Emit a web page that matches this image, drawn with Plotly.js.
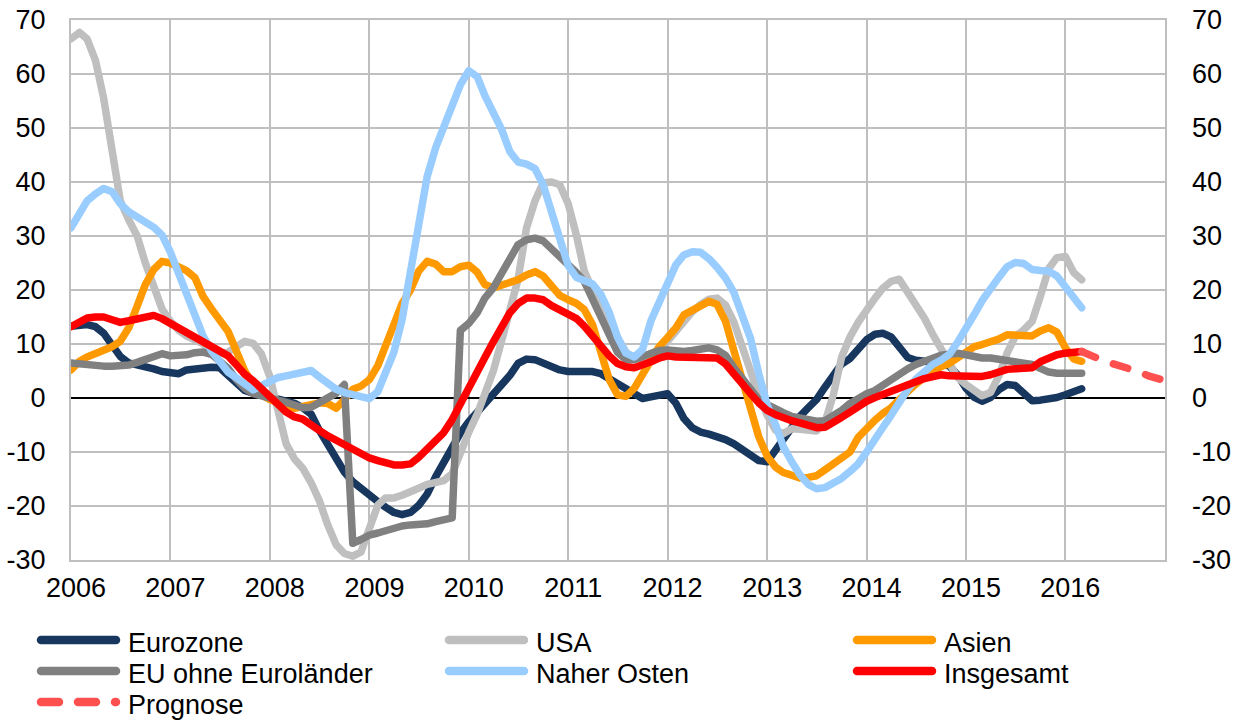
<!DOCTYPE html>
<html><head><meta charset="utf-8">
<script src="https://cdn.plot.ly/plotly-3.0.1.min.js"></script>
<style>
html,body{margin:0;padding:0;background:#fff;}
#chart{width:1242px;height:720px;}
.scatterlayer .js-line{stroke-linecap:round;stroke-linejoin:round;}
.shapelayer path{stroke-linecap:round;}
</style></head><body><div id="chart"></div>
<script>
// Monthly values, Jan 2006 .. Mar 2016
const startYear = 2006;
const eurozone = [13.3,13.6,13.6,13.2,12,9.8,7.7,6.5,6.2,5.9,5.4,4.9,
 4.6,4.5,5.2,5.4,5.6,5.7,5.6,4.3,2.8,1.4,0.9,0.4,
 0.2,-0.2,-0.6,-1,-1.8,-3,-6,-8.6,-11.3,-13.7,-15.5,-16.8,
 -18,-19.2,-20.2,-21.2,-21.6,-21.2,-19.9,-17.8,-14.6,-11.7,-8.9,-6.5,
 -4.4,-2.7,-0.9,0.7,2.3,4.2,6.4,7.2,7.1,6.5,5.6,5.2,
 4.9,4.9,4.9,4.9,4.5,3.6,2.6,1.5,0.6,-0.1,0.2,0.6,
 0.8,-1,-3.8,-5.5,-6.3,-6.7,-7.1,-7.7,-8.5,-9.4,-10.6,-11.6,
 -11.8,-9.7,-7.5,-5.3,-3.4,-1.8,-0.3,2,4.5,6.3,7.3,9,
 10.8,11.8,12,11.3,9.5,7.5,7,6.8,6.6,6.5,5.9,4.3,
 1.8,0.1,-0.6,0.1,1.5,2.5,2.3,0.9,-0.5,-0.4,-0.2,0.1,
 0.6,1.2,1.7];
const usa = [66.5,67.7,66.5,62.5,55.5,45.5,36.5,33,30,25,20.5,16.5,
 14.2,12.5,11.5,10.8,10,9,8.2,8.5,9.5,10.5,10.1,8.2,
 4,-2.5,-8.5,-11.3,-13,-15.7,-19,-23.5,-27.2,-28.8,-29.3,-28.5,
 -24.5,-19.8,-18.5,-18.5,-18,-17.5,-16.7,-16,-15.5,-15.3,-14,-10,
 -6.3,-3,0.7,5,10.5,16,22,31.5,36.5,39.8,40,39.5,
 36,30,23.5,20,17,13.5,11.2,8.5,7.3,7.3,8,9,
 10.5,12.5,14.5,16,17.3,18.3,18.5,17.2,14,9.5,5.2,0.5,
 -3.2,-6,-6.6,-5.7,-5.8,-6,-6.1,-4.5,0.6,7.5,11.3,14,
 16.4,18.5,20.3,21.6,22,19.6,17.3,14.8,11.8,9.2,6.3,3.8,
 2.5,1.2,0.4,1,4,8.3,11.4,12.6,14.2,18.8,24,26,
 26.2,23.2,21.9];
const asien = [5.2,6.8,7.6,8.2,8.7,9.5,10.5,13,17,21,23.8,25.3,
 25,24.2,23.6,22.3,18.8,16.5,14.5,12.3,8.6,5,2.6,0.6,
 -0.3,-1,-1.5,-1.9,-1.5,-1,-0.9,-1,-1.9,-0.3,1.6,2.2,
 3.4,6,9.5,13.5,17.5,20,23.5,25.3,24.8,23.4,23.4,24.3,
 24.6,23.3,21,20.4,20.9,21.4,21.9,22.8,23.4,22.6,20.7,19,
 18.2,17.5,16.4,13.5,8.5,3.4,0.6,0.3,1.8,4.5,7,9.5,
 11.2,13,15.4,16.3,17,17.9,17.3,14.2,8.7,3.2,-2.3,-7.2,
 -10.8,-12.8,-13.8,-14.5,-14.8,-14.7,-14.4,-13.3,-12.3,-11.3,-10,-7.3,
 -5.5,-4.1,-2.9,-1.8,-0.3,1.4,2.6,3.8,4.9,5.8,6.4,7.5,
 8.5,9.5,9.9,10.3,10.9,11.7,11.6,11.4,11.5,12.4,13,12.2,
 9.3,7.2,6.8];
const euOhne = [6.5,6.3,6,5.9,5.9,5.9,5.9,6.1,6.6,7.2,7.9,8.2,
 7.8,7.8,8,8.4,8.5,8.1,7,5.5,3.4,1.8,0.8,0.4,
 0.2,-0.1,-0.8,-1.3,-1.8,-1.7,-0.9,-0.2,0.9,2.5,-26.9,-26.2,
 -25.4,-25,-24.5,-24,-23.7,-23.5,-23.5,-23.3,-22.9,-22.5,-22.2,12.5,
 13.8,15.8,18.5,20.4,23,25.5,28.4,29.3,29.6,29.1,27.7,26.2,
 24.6,23.2,21.6,18.2,15.5,11.5,8.5,7.1,7.1,7.7,8.4,8.8,
 8.9,8.7,8.6,8.8,9.1,9.3,8.9,7.9,5.6,3.5,1.4,-0.3,
 -1.2,-2.1,-2.7,-3.4,-3.8,-4.2,-4.3,-4.2,-3.4,-2.3,-1,0,
 0.8,1.4,2.4,3.3,4.4,5.4,6.2,6.9,7.5,7.9,8.1,8.3,
 8,7.6,7.4,7.4,7.2,7,6.8,6.5,6.2,5.5,4.8,4.6,
 4.6,4.6,4.6];
const naherOsten = [31.5,34.5,36.5,37.8,38.8,38.2,36,34.5,33.5,32.5,31.6,30.2,
 27,23,19.5,16,11.5,8.7,6.5,4.8,3.7,2.6,1.5,2.3,
 3.2,3.8,4.1,4.4,4.8,5.1,3.9,2.8,1.6,1,0.6,0.2,
 -0.1,1.2,4.5,8.5,14.5,23,33,41,46.3,50,53.7,58,
 60.6,59.5,56,53,49.8,45.6,43.7,43.3,42.5,39.5,34.5,28.5,
 24.5,22.3,21.7,21.1,19.2,15.8,11.3,8.3,7.6,9,14.3,17.7,
 21.8,24.7,26.5,27.1,27,25.8,24.2,22.2,19.5,15.7,11,4.5,
 -1.3,-5,-9,-11.8,-14.2,-16,-16.8,-16.6,-15.8,-14.9,-13.6,-12.2,
 -10,-7.9,-5.5,-3.2,-0.7,1.6,3.5,5,6.2,7,8.1,10.3,
 12.7,15.5,18,20.4,22.3,24.3,25.1,24.9,23.8,23.6,23.5,22.6,
 20.6,18.2,16.7];
const insgesamt = [13.2,14.1,14.8,15,15,14.5,14,14.3,14.7,15.1,15.3,14.7,
 13.8,13.2,12.3,11.5,10.5,9.6,8.9,7.8,6.1,4.4,3.2,1.9,
 0.5,-1.2,-2.6,-3.5,-3.9,-4.8,-6,-7,-7.9,-8.7,-9.3,-10.4,
 -11.1,-11.6,-12,-12.4,-12.4,-12.2,-11,-9.6,-8.1,-6.4,-4,-1.3,
 1.6,4.6,7.5,10.4,13.2,15.8,17.5,18.5,18.5,18.2,17.1,16.2,
 15.4,14.7,13.3,11.3,9.6,7.8,6.4,5.8,5.6,6,6.7,7.4,
 7.8,7.6,7.5,7.4,7.4,7.4,7.4,6.3,4.3,2.5,0.8,-0.9,
 -2.3,-3.1,-3.7,-4.2,-4.6,-5,-5.5,-5.4,-4.6,-3.6,-2.6,-1.4,
 -0.6,0.1,0.7,1.3,1.7,2.3,3,3.6,4.1,4.3,4.1,4,
 4,4,4,4.3,4.9,5.3,5.4,5.4,5.6,6.7,7.5,8,
 8.3,8.5,8.6];
const prognoseDates = ['2016-03-01','2016-04-01','2016-05-01','2016-06-01','2016-07-01','2016-08-01',
 '2016-09-01','2016-10-01','2016-11-01','2016-12-01','2017-01-01'];
const prognose = [8.6,8.1,7.3,6.7,6.3,5.9,5.4,4.8,4.1,3.6,3.2];

const yearLabels = ['2006','2007','2008','2009','2010','2011','2012','2013','2014','2015','2016'];
const yTicks = [-30,-20,-10,0,10,20,30,40,50,60,70];

const seriesNames = ['Eurozone','USA','Asien','EU ohne Euroländer','Naher Osten','Insgesamt','Prognose'];
const seriesColors = ['#17375E','#BFBFBF','#FF9900','#808080','#99CCFF','#FF0000','#FF5050'];

const months = [];
for (let i = 0; i < eurozone.length; i++) {
  const y = startYear + Math.floor(i / 12), m = (i % 12) + 1;
  months.push(y + '-' + String(m).padStart(2, '0') + '-01');
}

const LW = 7.5;
const seriesValues = [eurozone, usa, asien, euOhne, naherOsten, insgesamt];
const traces = seriesValues.map((vals, k) => ({
  type: 'scatter', mode: 'lines', x: months, y: vals, name: seriesNames[k],
  line: {color: seriesColors[k], width: LW}, showlegend: false, hoverinfo: 'skip'
}));
traces.push({type: 'scatter', mode: 'lines', x: prognoseDates, y: prognose, name: seriesNames[6],
  line: {color: seriesColors[6], width: LW, dash: '15px,19px'}, showlegend: false, hoverinfo: 'skip'});
traces.push({type: 'scatter', mode: 'lines', x: [months[0]], y: [0], yaxis: 'y2', showlegend: false,
  hoverinfo: 'skip', line: {width: 0}});

// manual legend (3 columns)
const W = 1242, H = 720, ML = 71, MR = 77, MT = 20, MB = 160;
const PW = W - ML - MR, PH = H - MT - MB;
const px = v => (v - ML) / PW, py = v => (H - MB - v) / PH;
const colX = [37, 445, 853], rowY = [640, 671, 702], textRowY = [642.5, 673.5, 704.5];
const shapes = [], annotations = [];
seriesNames.forEach((nm, i) => {
  const c = i % 3, r = Math.floor(i / 3);
  shapes.push({type: 'line', xref: 'paper', yref: 'paper', x0: px(colX[c] + 4), x1: px(colX[c] + 79),
    y0: py(rowY[r]), y1: py(rowY[r]), line: {color: seriesColors[i], width: 8.5, dash: i === 6 ? '18px,19px' : 'solid'}});
  annotations.push({xref: 'paper', yref: 'paper', x: px(colX[c] + 89), y: py(textRowY[r]), text: nm,
    showarrow: false, xanchor: 'left', yanchor: 'middle', font: {size: 27, color: '#000'}});
});

const fontFam = 'Liberation Sans, Arial, sans-serif';
const layout = {
  width: W, height: H, margin: {l: ML, r: MR, t: MT, b: MB},
  paper_bgcolor: '#fff', plot_bgcolor: '#fff',
  font: {family: fontFam, size: 27, color: '#000'},
  showlegend: false,
  xaxis: {type: 'date', range: ['2006-01-01', '2017-01-01'], tickmode: 'array',
    tickvals: yearLabels.map(y => y + '-01-01'), ticktext: yearLabels,
    showgrid: true, gridcolor: '#BFBFBF', gridwidth: 2, showline: true, linecolor: '#BFBFBF', linewidth: 2,
    mirror: true, ticks: '', zeroline: false, tickfont: {size: 27}, ticklabelstandoff: 3, ticklabelshift: 5},
  yaxis: {range: [-30, 70], tickmode: 'array', tickvals: yTicks, ticktext: yTicks.map(String),
    showgrid: true, gridcolor: '#BFBFBF', gridwidth: 2, showline: true, linecolor: '#BFBFBF', linewidth: 2,
    mirror: true, ticks: '', zeroline: true, zerolinecolor: '#000', zerolinewidth: 2.5,
    tickfont: {size: 27}, ticklabelstandoff: 18},
  yaxis2: {range: [-30, 70], overlaying: 'y', side: 'right', tickmode: 'array', tickvals: yTicks,
    ticktext: yTicks.map(String), showgrid: false, zeroline: false, showline: false, ticks: '',
    tickfont: {size: 27}, ticklabelstandoff: 26},
  shapes: shapes, annotations: annotations
};
Plotly.newPlot('chart', traces, layout, {staticPlot: true});
</script></body></html>
